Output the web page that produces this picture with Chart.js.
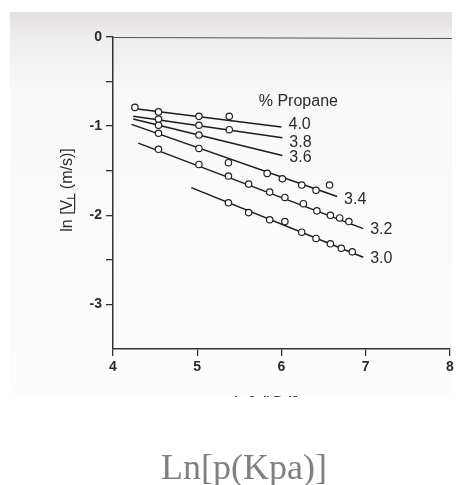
<!DOCTYPE html>
<html><head><meta charset="utf-8">
<script src="https://cdn.jsdelivr.net/npm/chart.js@4/dist/chart.umd.min.js"></script>
<style>html,body{margin:0;padding:0;background:#fff;overflow:hidden}canvas{display:block}</style>
</head><body>
<canvas id="c" width="464" height="485"></canvas>
<script>
// ---- data ----
const seriesNames = ['4.0', '3.8', '3.6', '3.4', '3.2', '3.0'];
const legendTitle = '% Propane';
const xTickValues = [4, 5, 6, 7, 8];
const yTickValues = [0, -0.5, -1, -1.5, -2, -2.5, -3];

const x40 = [4.26, 4.54, 5.02, 5.38];
const y40 = [-0.79, -0.84, -0.89, -0.89];
const x38 = [4.54, 5.02, 5.38];
const y38 = [-0.92, -0.99, -1.04];
const x36 = [4.54, 5.02];
const y36 = [-0.99, -1.10];
const x34 = [4.54, 5.02, 5.37, 5.83, 6.01, 6.24, 6.41, 6.57];
const y34 = [-1.08, -1.25, -1.41, -1.53, -1.59, -1.66, -1.72, -1.66];
const x32 = [4.54, 5.02, 5.37, 5.61, 5.86, 6.04, 6.26, 6.42, 6.58, 6.69, 6.80];
const y32 = [-1.26, -1.43, -1.56, -1.65, -1.74, -1.80, -1.87, -1.95, -2.00, -2.03, -2.07];
const x30 = [5.37, 5.61, 5.86, 6.04, 6.24, 6.41, 6.58, 6.71, 6.84];
const y30 = [-1.86, -1.97, -2.05, -2.07, -2.19, -2.26, -2.32, -2.37, -2.41];

// fitted straight lines (start, end)
const fit40x = [4.22, 6.00], fit40y = [-0.80, -1.01];
const fit38x = [4.24, 6.01], fit38y = [-0.89, -1.13];
const fit36x = [4.24, 6.01], fit36y = [-0.92, -1.33];
const fit34x = [4.22, 6.66], fit34y = [-0.98, -1.79];
const fit32x = [4.30, 6.97], fit32y = [-1.19, -2.15];
const fit30x = [4.93, 6.97], fit30y = [-1.69, -2.47];

const yTitle = ['ln [', 'V', 'L', ' (m/s)]'];
const xTitleCut = 'ln [p(kPa)]';
const bigTitle = 'Ln[p(Kpa)]';

// ---- build ----
const pts = (xs, ys) => xs.map((x, i) => ({ x: x, y: ys[i] }));
const pointSets = [[x40, y40], [x38, y38], [x36, y36], [x34, y34], [x32, y32], [x30, y30]];
const fitSets = [[fit40x, fit40y], [fit38x, fit38y], [fit36x, fit36y], [fit34x, fit34y], [fit32x, fit32y], [fit30x, fit30y]];
// small vertical nudges of the end labels (px), so they do not collide
const labelNudge = [-2, 5, 2, 3, 1, 1];

const datasets = [];
seriesNames.forEach((n, i) => {
  datasets.push({
    label: n + ' pts', data: pts(pointSets[i][0], pointSets[i][1]), showLine: false, order: 0,
    pointRadius: 3.2, pointBorderWidth: 1.2, pointBorderColor: '#222', pointBackgroundColor: '#fff'
  });
});
seriesNames.forEach((n, i) => {
  datasets.push({
    label: n, data: pts(fitSets[i][0], fitSets[i][1]), showLine: true, order: 1,
    borderColor: '#1c1c1c', borderWidth: 1.5, pointRadius: 0, fill: false
  });
});

const TXT = '#2b2b2b';
const FONT = '"Liberation Sans", Arial, sans-serif';

const bgPlugin = {
  id: 'bg',
  beforeDraw(chart) {
    const ctx = chart.ctx;
    ctx.save();
    ctx.fillStyle = '#fff';
    ctx.fillRect(0, 0, chart.width, chart.height);
    const g = ctx.createLinearGradient(0, 12, 0, 397);
    g.addColorStop(0, '#e2dfde');
    g.addColorStop(0.06, '#eeecec');
    g.addColorStop(0.2, '#f8f8f8');
    g.addColorStop(1, '#fdfdfd');
    ctx.fillStyle = g;
    ctx.fillRect(10, 12, 442, 385);
    ctx.restore();
  }
};

const decoPlugin = {
  id: 'deco',
  afterDraw(chart) {
    const ctx = chart.ctx;
    const xs = chart.scales.x, ys = chart.scales.y;
    const ca = chart.chartArea;
    ctx.save();
    // top frame line at y = 0
    ctx.strokeStyle = '#555';
    ctx.lineWidth = 1.2;
    ctx.beginPath();
    ctx.moveTo(ca.left, ys.getPixelForValue(0) + 0.5);
    ctx.lineTo(ca.right + 2, ys.getPixelForValue(0) + 1.5);
    ctx.stroke();

    // series labels at the end of each fit line
    ctx.fillStyle = TXT;
    ctx.font = '16px ' + FONT;
    ctx.textAlign = 'left';
    ctx.textBaseline = 'middle';
    seriesNames.forEach((n, i) => {
      const fx = fitSets[i][0], fy = fitSets[i][1];
      const px = xs.getPixelForValue(fx[fx.length - 1]);
      const py = ys.getPixelForValue(fy[fy.length - 1]);
      ctx.fillText(n, px + 7, py + labelNudge[i]);
    });
    // legend title
    ctx.textAlign = 'center';
    ctx.fillText(legendTitle, xs.getPixelForValue(6.2), ys.getPixelForValue(-0.72));

    // y axis title (rotated, V underlined, L subscript)
    ctx.save();
    ctx.translate(ca.left - 47, (ca.top + ca.bottom) / 2 - 3);
    ctx.rotate(-Math.PI / 2);
    ctx.textBaseline = 'alphabetic';
    ctx.textAlign = 'left';
    const fMain = '16px ' + FONT, fSub = '11px ' + FONT;
    ctx.font = fMain;
    const w0 = ctx.measureText(yTitle[0]).width;
    const w1 = ctx.measureText(yTitle[1]).width;
    const w3 = ctx.measureText(yTitle[3]).width;
    ctx.font = fSub;
    const w2 = ctx.measureText(yTitle[2]).width;
    const total = w0 + w1 + w2 + w3;
    let cx = -total / 2;
    const base = 6;
    ctx.font = fMain;
    ctx.fillText(yTitle[0], cx, base); cx += w0;
    ctx.fillText(yTitle[1], cx, base);
    ctx.fillRect(cx, base + 2, w1 + w2, 1.2);
    cx += w1;
    ctx.font = fSub;
    ctx.fillText(yTitle[2], cx, base + 3); cx += w2;
    ctx.font = fMain;
    ctx.fillText(yTitle[3], cx, base);
    ctx.restore();

    // x axis title, cut off by the edge of the scan
    ctx.save();
    ctx.beginPath();
    ctx.rect(0, 389, chart.width, 8);
    ctx.clip();
    ctx.font = 'bold 13px ' + FONT;
    ctx.fillStyle = '#444';
    ctx.textAlign = 'center';
    ctx.textBaseline = 'alphabetic';
    ctx.fillText(xTitleCut, 266, 405);
    ctx.restore();

    // big caption below
    ctx.font = '36px "Liberation Serif", "Times New Roman", serif';
    ctx.fillStyle = '#808080';
    ctx.textAlign = 'center';
    ctx.textBaseline = 'alphabetic';
    ctx.fillText(bigTitle, 244, 479);
    ctx.restore();
  }
};

new Chart(document.getElementById('c'), {
  type: 'scatter',
  data: { datasets: datasets },
  options: {
    responsive: false,
    animation: false,
    devicePixelRatio: 1,
    layout: { padding: { top: 37, right: 14, bottom: 96, left: 0 } },
    plugins: { legend: { display: false }, tooltip: { enabled: false } },
    scales: {
      x: {
        type: 'linear', min: 4, max: 8,
        afterBuildTicks: s => { s.ticks = xTickValues.map(v => ({ value: v })); },
        afterFit: s => { s.height = 40; },
        grid: { drawOnChartArea: false, drawTicks: true, tickLength: 7, color: '#333', lineWidth: 1.3 },
        border: { color: '#333', width: 1.5 },
        ticks: { color: TXT, font: { family: FONT, size: 14, weight: 'bold' }, padding: 3, maxRotation: 0 }
      },
      y: {
        type: 'linear', min: -3.5, max: 0,
        afterBuildTicks: s => { s.ticks = yTickValues.map(v => ({ value: v })); },
        afterFit: s => { s.width = 113; },
        grid: { drawOnChartArea: false, drawTicks: true, tickLength: 7, color: '#333', lineWidth: 1.3 },
        border: { color: '#333', width: 1.5 },
        ticks: {
          color: TXT, font: { family: FONT, size: 14, weight: 'bold' }, padding: 4,
          callback: v => (Number.isInteger(v) ? String(v) : '')
        }
      }
    }
  },
  plugins: [bgPlugin, decoPlugin]
});
</script>
</body></html>
